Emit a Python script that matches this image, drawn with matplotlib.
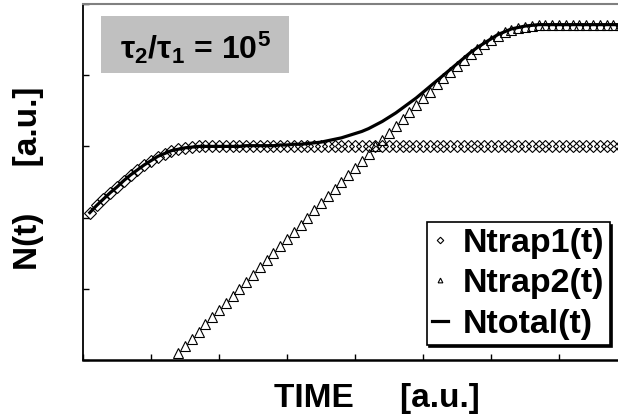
import matplotlib
matplotlib.use("Agg")
import matplotlib.pyplot as plt
from matplotlib.patches import Rectangle

# log10(time) grid
x_log = [0.1, 0.2, 0.3, 0.4, 0.5, 0.6, 0.7, 0.8, 0.9, 1.0,
         1.1, 1.2, 1.3, 1.4, 1.5, 1.6, 1.7, 1.8, 1.9, 2.0,
         2.1, 2.2, 2.3, 2.4, 2.5, 2.6, 2.7, 2.8, 2.9, 3.0,
         3.1, 3.2, 3.3, 3.4, 3.5, 3.6, 3.7, 3.8, 3.9, 4.0,
         4.1, 4.2, 4.3, 4.4, 4.5, 4.6, 4.7, 4.8, 4.9, 5.0,
         5.1, 5.2, 5.3, 5.4, 5.5, 5.6, 5.7, 5.8, 5.9, 6.0,
         6.1, 6.2, 6.3, 6.4, 6.5, 6.6, 6.7, 6.8, 6.9, 7.0,
         7.1, 7.2, 7.3, 7.4, 7.5, 7.6, 7.7, 7.8, 7.9]

# log10 N for trap 1 (all x_log points)
ntrap1 = [2.07, 2.17, 2.26, 2.35, 2.43, 2.52, 2.60, 2.67, 2.74, 2.80,
          2.85, 2.90, 2.94, 2.96, 2.98, 2.99, 3.00, 3.00, 3.00, 3.00,
          3.00, 3.00, 3.00, 3.00, 3.00, 3.00, 3.00, 3.00, 3.00, 3.00,
          3.00, 3.00, 3.00, 3.00, 3.00, 3.00, 3.00, 3.00, 3.00, 3.00,
          3.00, 3.00, 3.00, 3.00, 3.00, 3.00, 3.00, 3.00, 3.00, 3.00,
          3.00, 3.00, 3.00, 3.00, 3.00, 3.00, 3.00, 3.00, 3.00, 3.00,
          3.00, 3.00, 3.00, 3.00, 3.00, 3.00, 3.00, 3.00, 3.00, 3.00,
          3.00, 3.00, 3.00, 3.00, 3.00, 3.00, 3.00, 3.00, 3.00]

# log10 N for trap 2 (from x = 1.4 onward)
x_trap2 = x_log[13:]
ntrap2 = [0.10, 0.20, 0.30, 0.40, 0.50, 0.60, 0.70,
          0.80, 0.90, 1.00, 1.10, 1.20, 1.30, 1.40, 1.50, 1.60, 1.70,
          1.80, 1.90, 2.00, 2.10, 2.20, 2.30, 2.40, 2.50, 2.60, 2.70,
          2.80, 2.90, 3.00, 3.09, 3.19, 3.29, 3.39, 3.49, 3.58, 3.68,
          3.77, 3.87, 3.96, 4.05, 4.13, 4.22, 4.30, 4.37, 4.44, 4.50,
          4.55, 4.60, 4.64, 4.66, 4.68, 4.69, 4.70, 4.70, 4.70, 4.70,
          4.70, 4.70, 4.70, 4.70, 4.70, 4.70, 4.70, 4.70, 4.70]

# log10 N total (all x_log points)
ntotal = [2.07, 2.17, 2.26, 2.35, 2.43, 2.52, 2.60, 2.67, 2.74, 2.80,
          2.86, 2.90, 2.94, 2.96, 2.98, 2.99, 3.00, 3.00, 3.00, 3.00,
          3.00, 3.00, 3.00, 3.01, 3.01, 3.01, 3.01, 3.01, 3.02, 3.02,
          3.03, 3.03, 3.04, 3.05, 3.06, 3.08, 3.10, 3.12, 3.15, 3.18,
          3.21, 3.25, 3.30, 3.35, 3.41, 3.47, 3.54, 3.61, 3.68, 3.76,
          3.84, 3.92, 4.00, 4.08, 4.16, 4.24, 4.32, 4.39, 4.45, 4.51,
          4.57, 4.61, 4.65, 4.67, 4.69, 4.70, 4.71, 4.71, 4.71, 4.71,
          4.71, 4.71, 4.71, 4.71, 4.71, 4.71, 4.71, 4.71, 4.71]

x_ticks = [0, 1, 2, 3, 4, 5, 6, 7]
y_ticks = [0, 1, 2, 3, 4, 5]

plt.rcParams['font.family'] = ['Liberation Sans', 'DejaVu Sans']
plt.rcParams['mathtext.fontset'] = 'custom'
plt.rcParams['mathtext.rm'] = 'Liberation Sans:bold'
plt.rcParams['mathtext.bf'] = 'Liberation Sans:bold'
plt.rcParams['mathtext.it'] = 'Liberation Sans:bold'
plt.rcParams['mathtext.sf'] = 'Liberation Sans:bold'

fig = plt.figure(figsize=(6.18, 4.19), dpi=100)
ax = fig.add_axes([83/618, 59/419, 544/618, 356/419])

ax.plot(x_log, ntrap1, linestyle='none', marker='D', markersize=6.6,
        mfc='none', mec='black', mew=0.8, label='Ntrap1(t)', zorder=2)
ax.plot(x_trap2, ntrap2, linestyle='none', marker='^', markersize=6.8,
        mfc='none', mec='black', mew=0.8, label='Ntrap2(t)', zorder=2)
ax.plot(x_log, ntotal, color='black', lw=2.3, label='Ntotal(t)', zorder=3)

ax.set_xlim(0, 8)
ax.set_ylim(0, 5)
ax.set_xticks(x_ticks)
ax.set_yticks(y_ticks)
ax.set_xticklabels([])
ax.set_yticklabels([])
ax.tick_params(axis='both', direction='in', length=4, width=1, color='black')

ax.spines['right'].set_visible(False)
ax.spines['top'].set_color('#808080')
ax.spines['top'].set_linewidth(1.5)
ax.spines['left'].set_linewidth(1.3)
ax.spines['bottom'].set_linewidth(1.8)

# annotation box
ax.add_patch(Rectangle((0.033, 0.806), 0.3456, 0.160, transform=ax.transAxes,
                       facecolor='#c0c0c0', edgecolor='none', zorder=1))
ax.text(0.206, 0.878, r'τ$_\mathbf{2}$/τ$_\mathbf{1}$ = 10$^\mathbf{5}$',
        transform=ax.transAxes, ha='center', va='center',
        fontsize=23, fontweight='bold', zorder=4)

leg = ax.legend(loc='lower right', bbox_to_anchor=(0.968, 0.043),
                prop={'weight': 'bold', 'size': 24.5},
                frameon=True, fancybox=False,
                shadow={'color': 'black', 'alpha': 1, 'ox': 1.5, 'oy': -1.5},
                markerscale=0.5, handlelength=0.45, handletextpad=0.45,
                labelspacing=0.28, borderpad=0.15, borderaxespad=0)
leg.get_frame().set_edgecolor('black')
leg.get_frame().set_linewidth(1.2)

fig.text(377/618, 12/419, 'TIME     [a.u.]', ha='center', va='baseline',
         fontsize=24, fontweight='bold')
fig.text(29/618, 241/419, 'N(t)     [a.u.]', ha='center', va='center',
         rotation=90, fontsize=24, fontweight='bold')

fig.savefig('out.png', dpi=100)
